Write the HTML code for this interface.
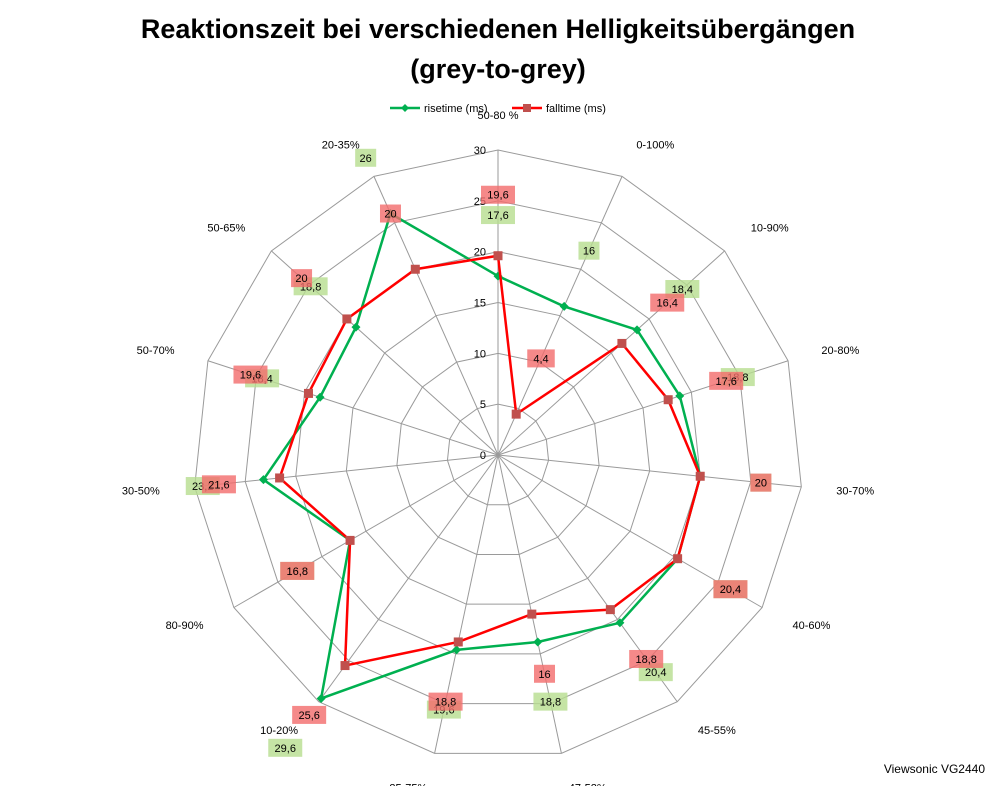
<!DOCTYPE html>
<html><head><meta charset="utf-8"><style>
body{margin:0;background:#fff;}
svg{display:block;font-family:"Liberation Sans",sans-serif;}
</style></head><body>
<svg id="chart" width="998" height="786" viewBox="0 0 998 786">
<text x="498" y="38" text-anchor="middle" font-size="27" font-weight="bold">Reaktionszeit bei verschiedenen Helligkeitsübergängen</text>
<text x="498" y="78" text-anchor="middle" font-size="27" font-weight="bold">(grey-to-grey)</text>
<g>
<g>
<line x1="390" y1="108" x2="420" y2="108" stroke="#00B050" stroke-width="2.5"/>
<path d="M405 104 L409 108 L405 112 L401 108Z" fill="#00B050"/>
<text x="424" y="112" font-size="11">risetime (ms)</text></g>
<g>
<line x1="512" y1="108" x2="542" y2="108" stroke="#FF0000" stroke-width="2.5"/>
<rect x="523" y="104" width="8" height="8" fill="#C0504D"/>
<text x="546" y="112" font-size="11">falltime (ms)</text></g>
</g>
<g id="grid"></g><g id="series"></g><g id="labels"></g>
<text x="985" y="773" text-anchor="end" font-size="12">Viewsonic VG2440</text>
</svg>
<script>
const categories=["50-80 %","0-100%","10-90%","20-80%","30-70%","40-60%","45-55%","47-52%","25-75%","10-20%","80-90%","30-50%","50-70%","50-65%","20-35%"];
const riseValues=[17.6,16,18.4,18.8,20,20.4,20.4,18.8,19.6,29.6,16.8,23.2,18.4,18.8,26];
const fallValues=[19.6,4.4,16.4,17.6,20,20.4,18.8,16,18.8,25.6,16.8,21.6,19.6,20,20];
const ticks=[0,5,10,15,20,25,30];
const cx=498,cy=455,R=305,maxV=30,N=categories.length;
const NS="http://www.w3.org/2000/svg";
function ang(i){return -Math.PI/2+i*2*Math.PI/N;}
function pt(i,v){const a=ang(i),r=v/maxV*R;return [cx+r*Math.cos(a),cy+r*Math.sin(a)];}
function mk(tag,attrs,parent){const e=document.createElementNS(NS,tag);for(const k in attrs)e.setAttribute(k,attrs[k]);parent.appendChild(e);return e;}
const grid=document.getElementById('grid'),series=document.getElementById('series'),labels=document.getElementById('labels');
ticks.forEach(t=>{if(t===0)return;
 const p=categories.map((c,i)=>pt(i,t).join(',')).join(' ');
 const g=mk('polygon',{points:p,fill:'none',stroke:'#9a9a9a','stroke-width':1},grid);
 
 
});
categories.forEach((c,i)=>{
 const [x,y]=pt(i,maxV);
 const l=mk('line',{x1:cx,y1:cy,x2:x,y2:y,stroke:'#9a9a9a','stroke-width':1},grid);
 
 
 const [lx,ly]=pt(i,maxV*1.115);
 const a=Math.cos(ang(i));
 const t=mk('text',{x:lx,y:ly+4,'font-size':11,'text-anchor':Math.abs(a)<0.2?'middle':(a>0?'start':'end')},labels);
 t.textContent=c;
 
 
});
ticks.forEach(t=>{const [x,y]=pt(0,t);
 const e=mk('text',{x:x-12,y:y+4,'font-size':11,'text-anchor':'end'},labels);
 e.textContent=t;
 
 
});
function drawSeries(vals,color,mcol,name,square,lblCol){
 const p=vals.map((v,i)=>pt(i,v).join(',')).join(' ');
 const pl=mk('polygon',{points:p,fill:'none',stroke:color,'stroke-width':2.5},series);
 
 
 vals.forEach((v,i)=>{const [x,y]=pt(i,v);let m;
  if(square)m=mk('rect',{x:x-4.5,y:y-4.5,width:9,height:9,fill:mcol},series);
  else m=mk('path',{d:`M${x} ${y-4.5}L${x+4.5} ${y}L${x} ${y+4.5}L${x-4.5} ${y}Z`,fill:mcol},series);
  
  
  const [lx,ly]=pt(i,v+6);const s=String(v).replace('.',',');const w=s.length*6.5+8;
  const b=mk('rect',{x:lx-w/2,y:ly-9,width:w,height:18,fill:lblCol,opacity:0.8},labels);
  
  
  const t=mk('text',{x:lx,y:ly+4,'font-size':11,'text-anchor':'middle'},labels);
  t.textContent=s;
  
  
 });
}
drawSeries(riseValues,'#00B050','#00B050','risetime',false,'#B7DD8F');
drawSeries(fallValues,'#FF0000','#C0504D','falltime',true,'#F26B6B');
</script>
</body></html>
